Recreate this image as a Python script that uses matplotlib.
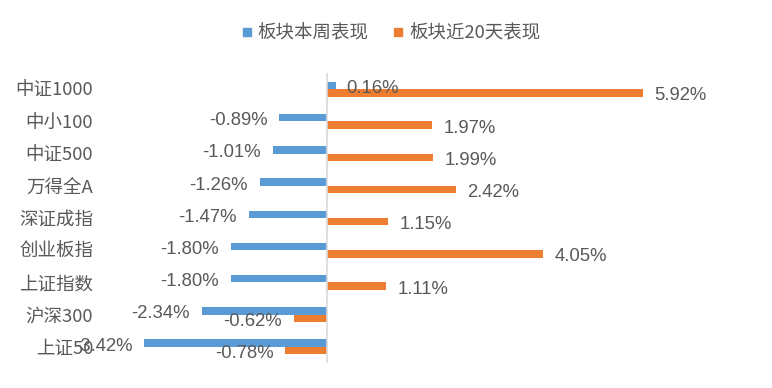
import matplotlib
matplotlib.use("Agg")
import matplotlib.pyplot as plt
from matplotlib.lines import Line2D
import numpy as np

plt.rcParams['font.family'] = ['Noto Sans CJK SC', 'DejaVu Sans']

categories = ["中证1000", "中小100", "中证500", "万得全A", "深证成指",
              "创业板指", "上证指数", "沪深300", "上证50"]
week = [0.16, -0.89, -1.01, -1.26, -1.47, -1.80, -1.80, -2.34, -3.42]
days20 = [5.92, 1.97, 1.99, 2.42, 1.15, 4.05, 1.11, -0.62, -0.78]
series_names = ["板块本周表现", "板块近20天表现"]

BLUE = "#5B9BD5"
ORANGE = "#ED7D31"
TEXT = "#595959"

fig = plt.figure(figsize=(7.72, 3.88), dpi=100)
# axes in pixel terms: left 100, right 720, top 73, bottom 363
ax = fig.add_axes([100 / 772, 1 - 363 / 388, 620 / 772, 290 / 388])

y = np.arange(len(categories))
h = 0.23
off = 0.115
ax.barh(y - off, week, height=h, color=BLUE)
ax.barh(y + off, days20, height=h, color=ORANGE)

def add_labels(vals, ypos):
    for v, yy in zip(vals, ypos):
        if v >= 0:
            ax.annotate(f"{v:.2f}%", (v, yy), xytext=(11, -3), textcoords="offset pixels",
                        ha="left", va="center", fontsize=13.3, color=TEXT,
                        family=["Liberation Sans", "DejaVu Sans"])
        else:
            ax.annotate(f"{v:.2f}%", (v, yy), xytext=(-12, -3), textcoords="offset pixels",
                        ha="right", va="center", fontsize=13.3, color=TEXT,
                        family=["Liberation Sans", "DejaVu Sans"])

add_labels(week, y - off)
add_labels(days20, y + off)

ax.set_xlim((100 - 327) / 53.4, (720 - 327) / 53.4)
ax.set_ylim(len(categories) - 0.5, -0.5)
ax.axvline(0, color="#D9D9D9", lw=1.2)

ax.set_yticks(y)
ax.set_yticklabels(categories, fontsize=13.3, color=TEXT)
ax.tick_params(axis="y", length=0, pad=5)
ax.set_xticks([])
for s in ax.spines.values():
    s.set_visible(False)

handles = [Line2D([], [], marker="s", linestyle="none", color=BLUE, markersize=6),
           Line2D([], [], marker="s", linestyle="none", color=ORANGE, markersize=6)]
leg = fig.legend(handles, series_names, loc="center", ncol=2,
                 bbox_to_anchor=(391 / 772, 1 - 33 / 388), frameon=False,
                 fontsize=13.3, handlelength=0.6, handletextpad=0.3, columnspacing=1.3)
for t in leg.get_texts():
    t.set_color(TEXT)

fig.savefig("out.png", dpi=100)
